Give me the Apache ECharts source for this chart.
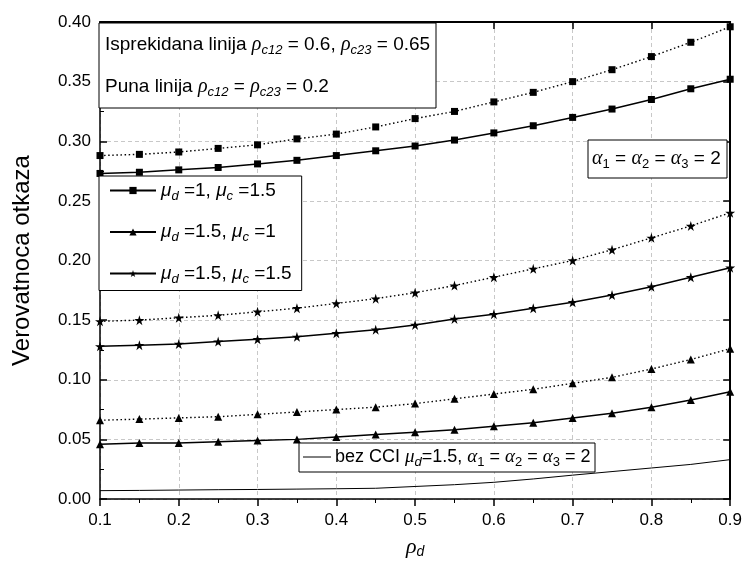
<!DOCTYPE html>
<html><head><meta charset="utf-8">
<script src="https://cdn.jsdelivr.net/npm/echarts@6.0.0/dist/echarts.min.js"></script>
<style>html,body{margin:0;padding:0;background:#fff}#c{width:745px;height:565px}</style>
</head><body><div id="c"></div>
<script>
// ---- data ----
const rhoD = [0.1,0.15,0.2,0.25,0.3,0.35,0.4,0.45,0.5,0.55,0.6,0.65,0.7,0.75,0.8,0.85,0.9];
const sqSolid    = [0.273,0.274,0.276,0.278,0.281,0.284,0.288,0.292,0.296,0.301,0.307,0.313,0.320,0.327,0.335,0.344,0.352];
const sqDotted   = [0.288,0.289,0.291,0.294,0.297,0.302,0.306,0.312,0.319,0.325,0.333,0.341,0.350,0.360,0.371,0.383,0.396];
const triSolid   = [0.046,0.047,0.047,0.048,0.049,0.050,0.052,0.054,0.056,0.058,0.061,0.064,0.068,0.072,0.077,0.083,0.090];
const triDotted  = [0.066,0.067,0.068,0.069,0.071,0.073,0.075,0.077,0.080,0.084,0.088,0.092,0.097,0.102,0.109,0.117,0.126];
const starSolid  = [0.128,0.129,0.130,0.132,0.134,0.136,0.139,0.142,0.146,0.151,0.155,0.160,0.165,0.171,0.178,0.186,0.194];
const starDotted = [0.149,0.150,0.152,0.154,0.157,0.160,0.164,0.168,0.173,0.179,0.186,0.193,0.200,0.209,0.219,0.229,0.240];
const bezCCI     = [0.0070,0.0072,0.0075,0.0078,0.0080,0.0083,0.0086,0.0090,0.0105,0.0120,0.0140,0.0168,0.0200,0.0230,0.0260,0.0290,0.0330];
const legendNames = ['sq','tri','star'];
const yAxisTitle = 'Verovatnoca otkaza';

// ---- styles ----
const SANS = 'Liberation Sans', SERIF = 'Liberation Serif';
function richSet(fs, sub){
  return {
    n:  {fontFamily:SANS, fontSize:fs, color:'#000', lineHeight:24, verticalAlign:'middle'},
    g:  {fontFamily:SERIF, fontStyle:'italic', fontSize:fs+1, color:'#000', lineHeight:24, verticalAlign:'middle'},
    gs: {fontFamily:SANS, fontStyle:'italic', fontSize:fs, color:'#000', lineHeight:24, verticalAlign:'middle'},
    si: {fontFamily:SANS, fontStyle:'italic', fontSize:sub, color:'#000', lineHeight:13, verticalAlign:'bottom'},
    su: {fontFamily:SANS, fontSize:sub, color:'#000', lineHeight:13, verticalAlign:'bottom'}
  };
}
const R = richSet(19, 13);
const RB = richSet(18, 13);
const RX = {
  g:  {fontFamily:SERIF, fontStyle:'italic', fontSize:22, color:'#000', lineHeight:24, verticalAlign:'middle'},
  si: {fontFamily:SANS, fontStyle:'italic', fontSize:14, color:'#000', lineHeight:13, verticalAlign:'bottom'}
};
const legendText = {
  sq:   '{gs|μ}{si|d}{n| =1, }{gs|μ}{si|c}{n| =1.5}',
  tri:  '{gs|μ}{si|d}{n| =1.5, }{gs|μ}{si|c}{n| =1}',
  star: '{gs|μ}{si|d}{n| =1.5, }{gs|μ}{si|c}{n| =1.5}'
};
const starPath = 'path://M50,0 L61,35 L98,35 L68,57 L79,91 L50,70 L21,91 L32,57 L2,35 L39,35 Z';

function pairs(arr){ return rhoD.map((x,i)=>[x, arr[i]]); }
function ser(name, arr, symbol, size, dotted){
  return {
    name, type:'line', data:pairs(arr), symbol, symbolSize:size, showSymbol:true,
    itemStyle:{color:'#000'}, lineStyle:{color:'#000', width:dotted?1.4:1.5, type:dotted?[1.5,2.6]:'solid'},
    emphasis:{disabled:true}, animation:false, z:3
  };
}

const chart = echarts.init(document.getElementById('c'), null, {renderer:'canvas'});
const gridLine = {show:true, lineStyle:{color:'#c8c8c8', width:1, type:[4,3]}};
chart.setOption({
  animation:false,
  backgroundColor:'#fff',
  grid:{left:100, right:14, top:22, bottom:66},
  xAxis:[{
    type:'value', min:0.1, max:0.9, interval:0.1, position:'bottom',
    axisLine:{onZero:false, lineStyle:{color:'#000', width:1.5}},
    axisTick:{inside:false, length:7, lineStyle:{color:'#000', width:1.5}},
    minorTick:{show:true, splitNumber:2, length:4, lineStyle:{color:'#000', width:1}},
    axisLabel:{fontFamily:SANS, fontSize:17, color:'#000', margin:13, formatter:v=>v.toFixed(1)},
    splitLine:gridLine,
    name:'{g|ρ}{si|d}', nameLocation:'middle', nameGap:36,
    nameTextStyle:{rich:RX}
  },{
    type:'value', min:0.1, max:0.9, interval:0.1, position:'top',
    axisLine:{onZero:false, lineStyle:{color:'#000', width:2}},
    axisTick:{inside:true, length:7, lineStyle:{color:'#000', width:1.5}},
    axisLabel:{show:false}, splitLine:{show:false}
  }],
  yAxis:[{
    type:'value', min:0, max:0.4, interval:0.05, position:'left',
    axisLine:{show:true, onZero:false, lineStyle:{color:'#000', width:1.5}},
    axisTick:{inside:true, length:7, lineStyle:{color:'#000', width:1.5}},
    minorTick:{show:true, splitNumber:2, length:4, lineStyle:{color:'#000', width:1}},
    axisLabel:{fontFamily:SANS, fontSize:17, color:'#000', margin:9, formatter:v=>v.toFixed(2)},
    splitLine:gridLine,
    name:yAxisTitle, nameLocation:'middle', nameGap:66,
    nameTextStyle:{fontFamily:SANS, fontSize:24, color:'#000'}
  },{
    type:'value', min:0, max:0.4, interval:0.05, position:'right',
    axisLine:{show:true, onZero:false, lineStyle:{color:'#000', width:2}},
    axisTick:{inside:true, length:7, lineStyle:{color:'#000', width:1.5}},
    axisLabel:{show:false}, splitLine:{show:false}
  }],
  legend:{
    data:legendNames, orient:'vertical', left:99, top:176,
    padding:[5,10,5,10], itemGap:20, itemWidth:46, itemHeight:9,
    backgroundColor:'#fff', borderColor:'#000', borderWidth:1,
    formatter:name=>legendText[name], textStyle:{rich:R},
    selectedMode:false, z:20
  },
  series:[
    ser('sq', sqSolid, 'rect', 7, false),
    ser('sqD', sqDotted, 'rect', 7, true),
    ser('tri', triSolid, 'triangle', 8, false),
    ser('triD', triDotted, 'triangle', 8, true),
    ser('star', starSolid, starPath, 10, false),
    ser('starD', starDotted, starPath, 10, true),
    {name:'bez', type:'line', data:pairs(bezCCI), symbol:'none', lineStyle:{color:'#000', width:1}, emphasis:{disabled:true}, z:3}
  ],
  graphic:[
    {type:'rect', z:100, shape:{x:99, y:23, width:337, height:85}, style:{fill:'#fff', stroke:'#000', lineWidth:1}},
    {type:'text', z:101, x:105, y:45, style:{text:'{n|Isprekidana linija }{g|ρ}{si|c12}{n| = 0.6, }{g|ρ}{si|c23}{n| = 0.65}', rich:R, verticalAlign:'middle', align:'left'}},
    {type:'text', z:101, x:105, y:87, style:{text:'{n|Puna linija }{g|ρ}{si|c12}{n| = }{g|ρ}{si|c23}{n| = 0.2}', rich:R, verticalAlign:'middle', align:'left'}},
    {type:'rect', z:100, shape:{x:588, y:140, width:139, height:38}, style:{fill:'#fff', stroke:'#000', lineWidth:1}},
    {type:'text', z:101, x:592, y:159, style:{text:'{g|α}{su|1}{n| = }{g|α}{su|2}{n| = }{g|α}{su|3}{n| = 2}', rich:R, verticalAlign:'middle', align:'left'}},
    {type:'rect', z:100, shape:{x:299, y:443, width:296, height:29}, style:{fill:'#fff', stroke:'#000', lineWidth:1}},
    {type:'line', z:101, shape:{x1:303, y1:457, x2:331, y2:457}, style:{stroke:'#000', lineWidth:1}},
    {type:'text', z:101, x:335, y:457, style:{text:'{n|bez CCI }{g|μ}{si|d}{n|=1.5, }{g|α}{su|1}{n| = }{g|α}{su|2}{n| = }{g|α}{su|3}{n| = 2}', rich:RB, verticalAlign:'middle', align:'left'}}
  ]
});
</script>
</body></html>
